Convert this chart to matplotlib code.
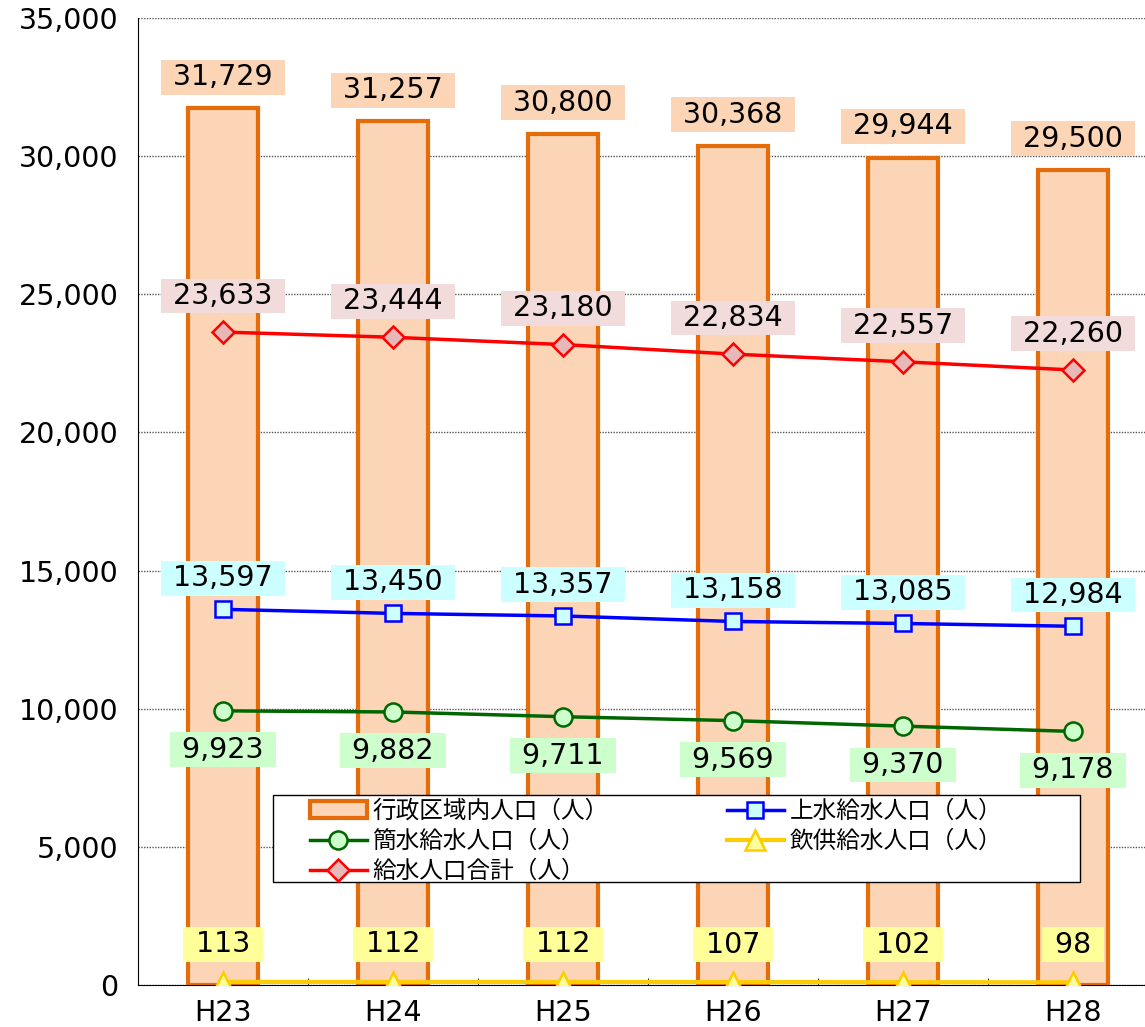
import matplotlib.pyplot as plt
from matplotlib.patches import Rectangle
import numpy as np

plt.rcParams['font.family'] = ['DejaVu Sans', 'Noto Sans CJK JP']

years = ['H23', 'H24', 'H25', 'H26', 'H27', 'H28']
gyosei = [31729, 31257, 30800, 30368, 29944, 29500]
josui = [13597, 13450, 13357, 13158, 13085, 12984]
kansui = [9923, 9882, 9711, 9569, 9370, 9178]
inkyo = [113, 112, 112, 107, 102, 98]
goukei = [23633, 23444, 23180, 22834, 22557, 22260]

fig = plt.figure(figsize=(11.45, 10.27), dpi=100)
ax = fig.add_axes([138 / 1145, 42 / 1027, 1020 / 1145, 967 / 1027])
x = np.arange(len(years))

# bars
bars = ax.bar(x, gyosei, 0.41, color='#FBD5B5', edgecolor='#E46C0A', linewidth=3, zorder=2)

# lines
l_josui, = ax.plot(x, josui, color='#0000FF', lw=2.5, marker='s', ms=12,
                   mfc='#CCFFFF', mec='#0000FF', mew=1.8, zorder=3)
l_kansui, = ax.plot(x, kansui, color='#006600', lw=2.5, marker='o', ms=13,
                    mfc='#CCFFCC', mec='#006600', mew=1.8, zorder=3)
l_inkyo, = ax.plot(x, inkyo, color='#FFCC00', lw=3, marker='^', ms=15,
                   mfc='#FFFF99', mec='#FFCC00', mew=1.8, zorder=3)
l_goukei, = ax.plot(x, goukei, color='#FF0000', lw=2.5, marker='D', ms=11,
                    mfc='#E6B9B8', mec='#FF0000', mew=1.8, zorder=3)

# data labels
def labels(vals, dy, fc):
    for xi, v in zip(x, vals):
        ax.annotate(f' {v:,} ', (xi, v), xytext=(0, dy), textcoords='offset points',
                    ha='center', va='center', fontsize=20.5, zorder=5,
                    bbox=dict(boxstyle='square,pad=0.12', fc=fc, ec='none'))

labels(gyosei, 22.5, '#FBD5B5')
labels(goukei, 26, '#F2DCDB')
labels(josui, 22.5, '#CCFFFF')
labels(kansui, -28, '#CCFFCC')
labels(inkyo, 27, '#FFFF99')

ax.set_xlim(-0.5, 5.5)
ax.set_ylim(0, 35000)
ax.set_yticks(np.arange(0, 35001, 5000))
ax.yaxis.set_major_formatter(plt.FuncFormatter(lambda v, p: f'{int(v):,}'))
ax.set_xticks(x)
ax.set_xticklabels(years)
ax.set_xticks(np.arange(0.5, 5.5, 1), minor=True)
ax.tick_params(axis='x', which='major', length=0, labelsize=20.5, pad=10)
ax.tick_params(axis='x', which='minor', length=5, direction='in')
ax.tick_params(axis='y', length=0, labelsize=20.5, pad=14)
ax.grid(axis='y', color='#555555', linestyle=(0, (1, 1)), linewidth=1, zorder=0)
ax.set_axisbelow(True)
for s in ['top', 'right']:
    ax.spines[s].set_visible(False)
ax.spines['left'].set_color('black')
ax.spines['bottom'].set_color('black')

# legend box drawn by hand, legend itself frameless
ax.add_patch(Rectangle((135 / 1020, 103 / 967), 807 / 1020, 87 / 967, transform=ax.transAxes,
                       fc='white', ec='black', lw=1, zorder=6))
leg = ax.legend([bars, l_kansui, l_goukei, l_josui, l_inkyo],
                ['行政区域内人口（人）', '簡水給水人口（人）', '給水人口合計（人）',
                 '上水給水人口（人）', '飲供給水人口（人）'],
                ncol=2, loc='upper left', bbox_to_anchor=(172 / 1020, 185 / 967),
                prop={'family': ['Noto Sans CJK JP'], 'size': 17}, frameon=False,
                borderpad=0, labelspacing=0.3, handlelength=2.4, columnspacing=5.0,
                handletextpad=0.25, borderaxespad=0)
leg.set_zorder(7)

plt.savefig('out.png', dpi=100)
